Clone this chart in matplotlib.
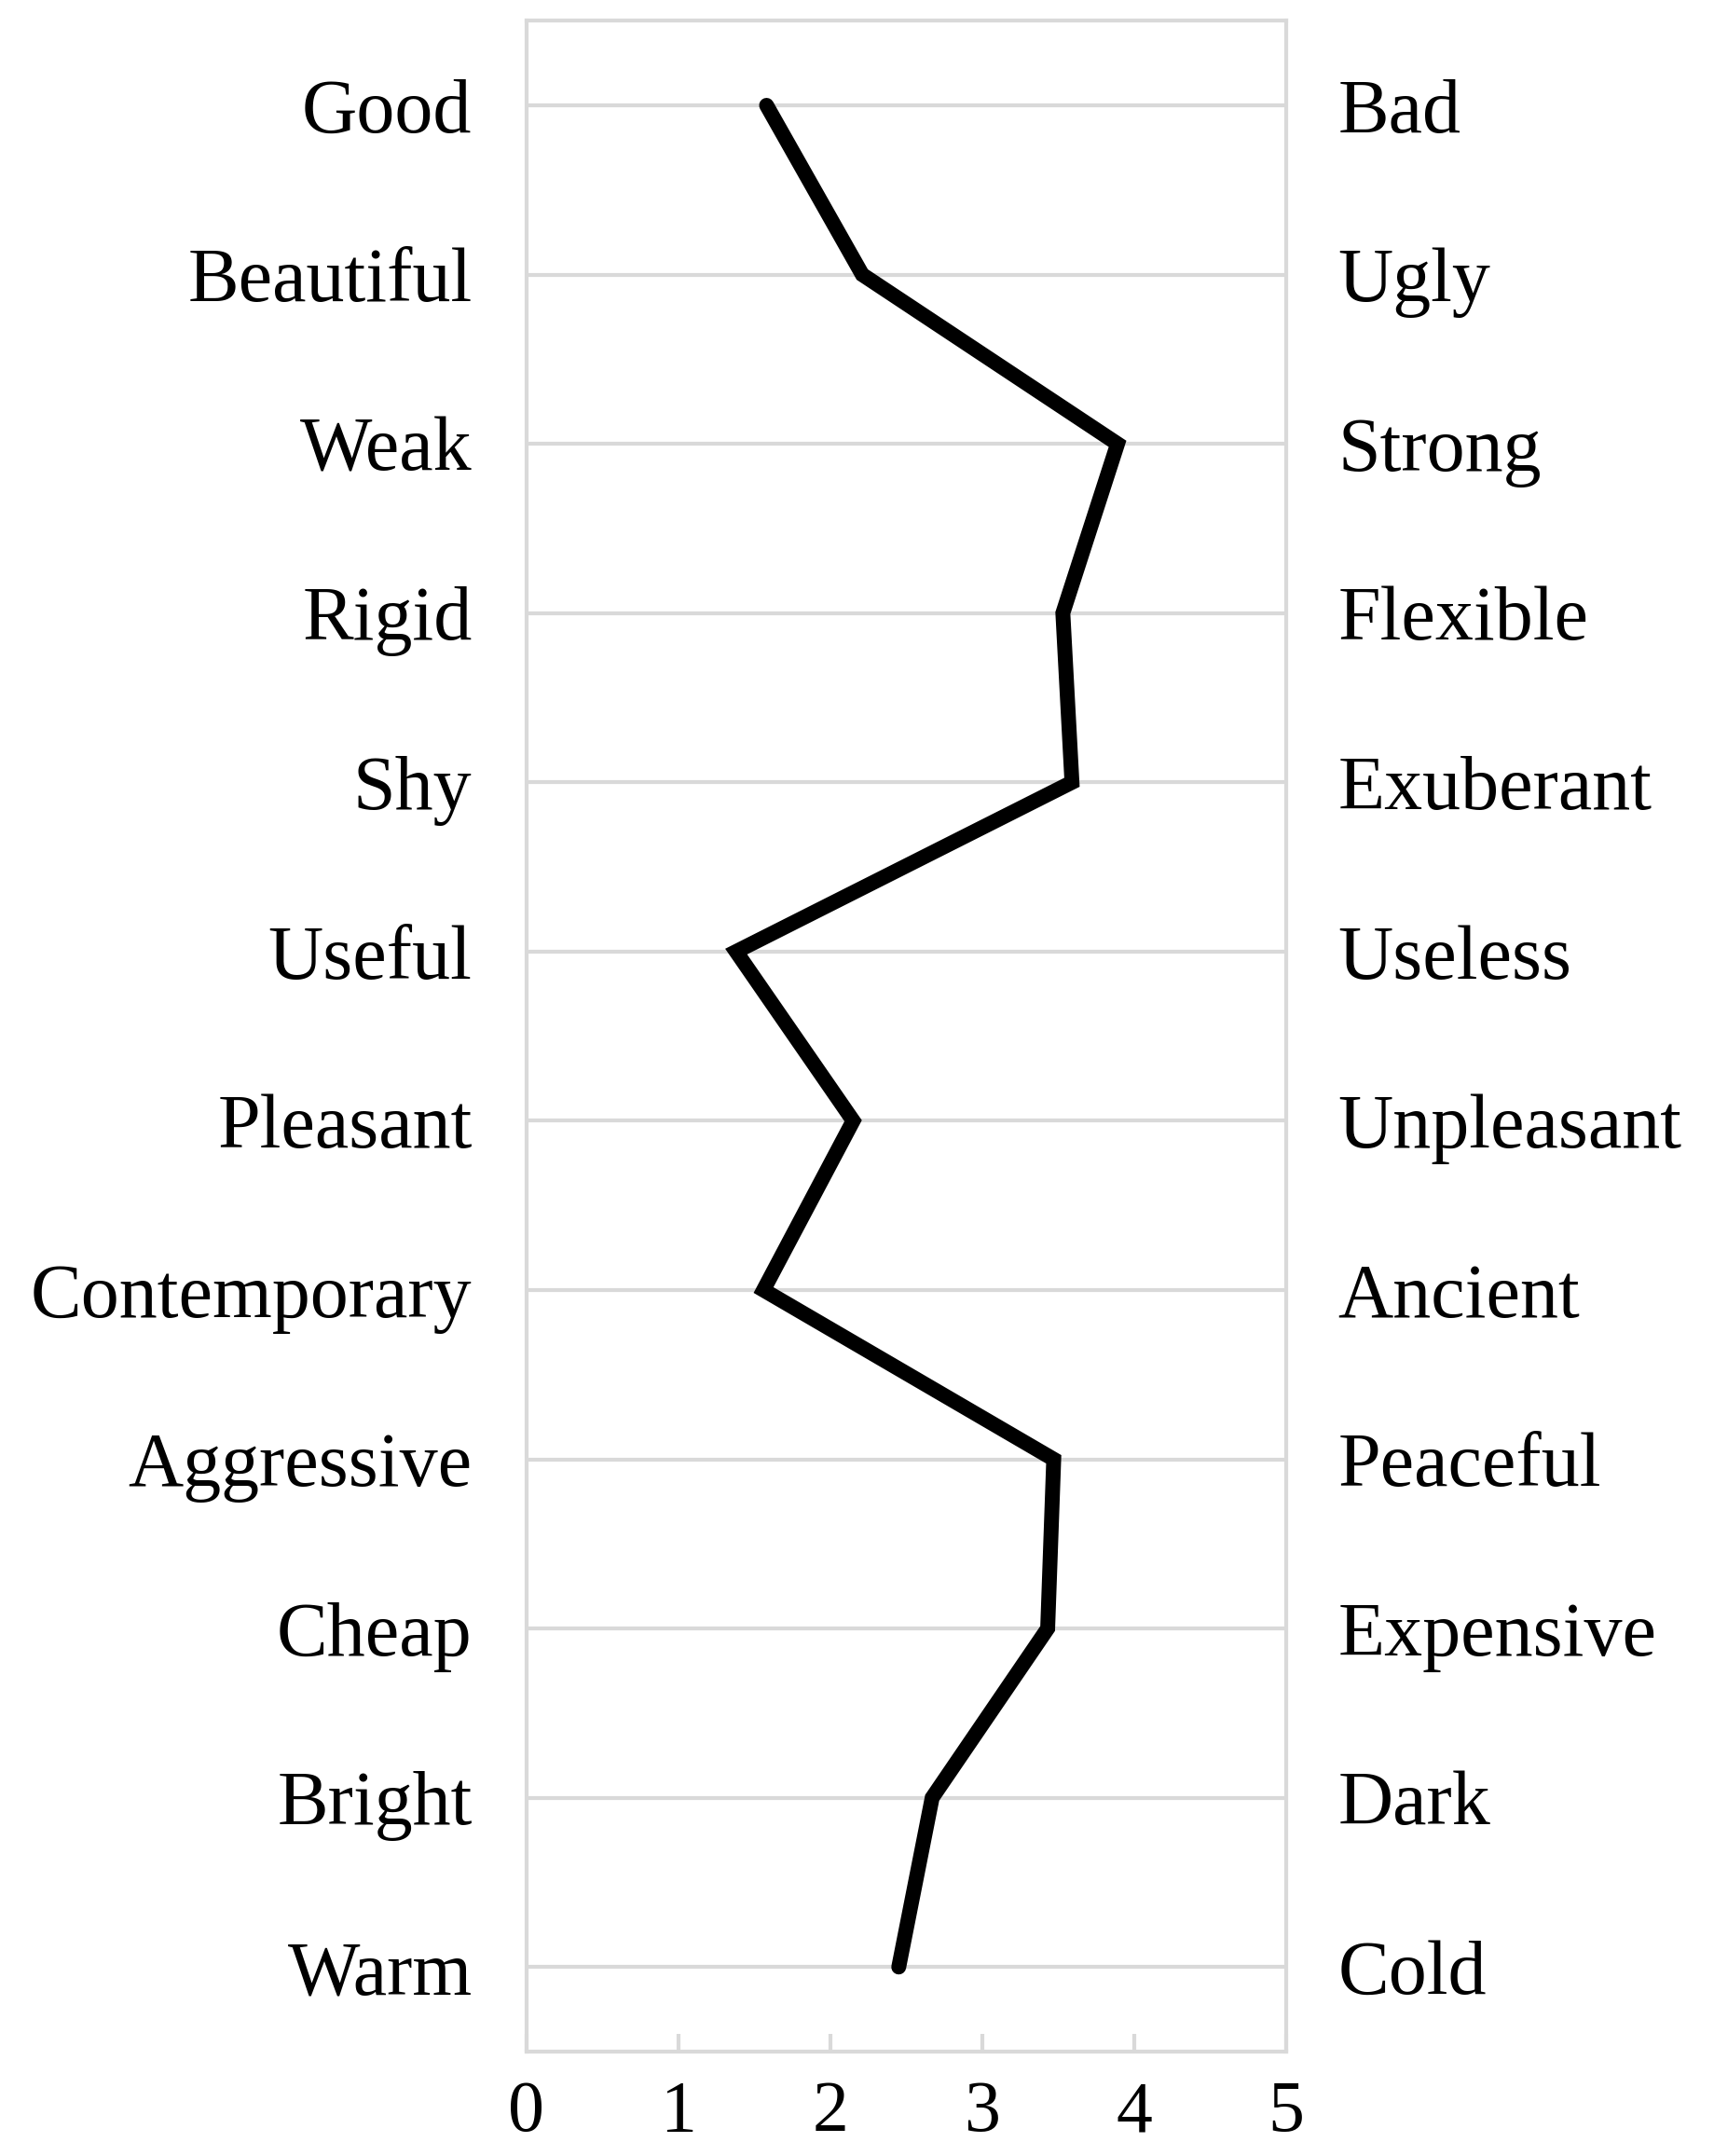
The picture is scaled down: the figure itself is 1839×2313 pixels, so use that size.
import matplotlib.pyplot as plt

left_labels = ['Good', 'Beautiful', 'Weak', 'Rigid', 'Shy', 'Useful', 'Pleasant',
               'Contemporary', 'Aggressive', 'Cheap', 'Bright', 'Warm']
right_labels = ['Bad', 'Ugly', 'Strong', 'Flexible', 'Exuberant', 'Useless', 'Unpleasant',
                'Ancient', 'Peaceful', 'Expensive', 'Dark', 'Cold']
scores = [1.58, 2.21, 3.89, 3.53, 3.59, 1.38, 2.15, 1.56, 3.47, 3.43, 2.67, 2.45]

plt.rcParams['font.family'] = ['Liberation Serif', 'DejaVu Serif']
grid_col = '#d9d9d9'

fig = plt.figure(figsize=(18.4, 23.13), dpi=100)
ax = fig.add_axes([0.307, 0.0484, 0.443, 0.942])

pos = list(range(len(left_labels)))
ax.plot(scores, pos, color='black', lw=11.5, solid_capstyle='round', solid_joinstyle='miter', zorder=3)

ax.set_xlim(0, 5)
ax.set_ylim(len(pos) - 0.5, -0.5)
ax.set_xticks(range(6))
ax.set_yticks(pos)
ax.set_yticklabels(left_labels, fontsize=59)
ax.grid(axis='y', color=grid_col, lw=3)
ax.tick_params(axis='y', length=0, pad=42)
ax.tick_params(axis='x', direction='in', length=14, width=3, color=grid_col,
               labelsize=56, pad=22)
for s in ax.spines.values():
    s.set_color(grid_col)
    s.set_linewidth(3)

ax2 = ax.twinx()
ax2.set_ylim(ax.get_ylim())
ax2.set_yticks(pos)
ax2.set_yticklabels(right_labels, fontsize=59)
ax2.tick_params(axis='y', length=0, pad=40)
for s in ax2.spines.values():
    s.set_visible(False)

fig.savefig('out.png', dpi=100, facecolor='white')
